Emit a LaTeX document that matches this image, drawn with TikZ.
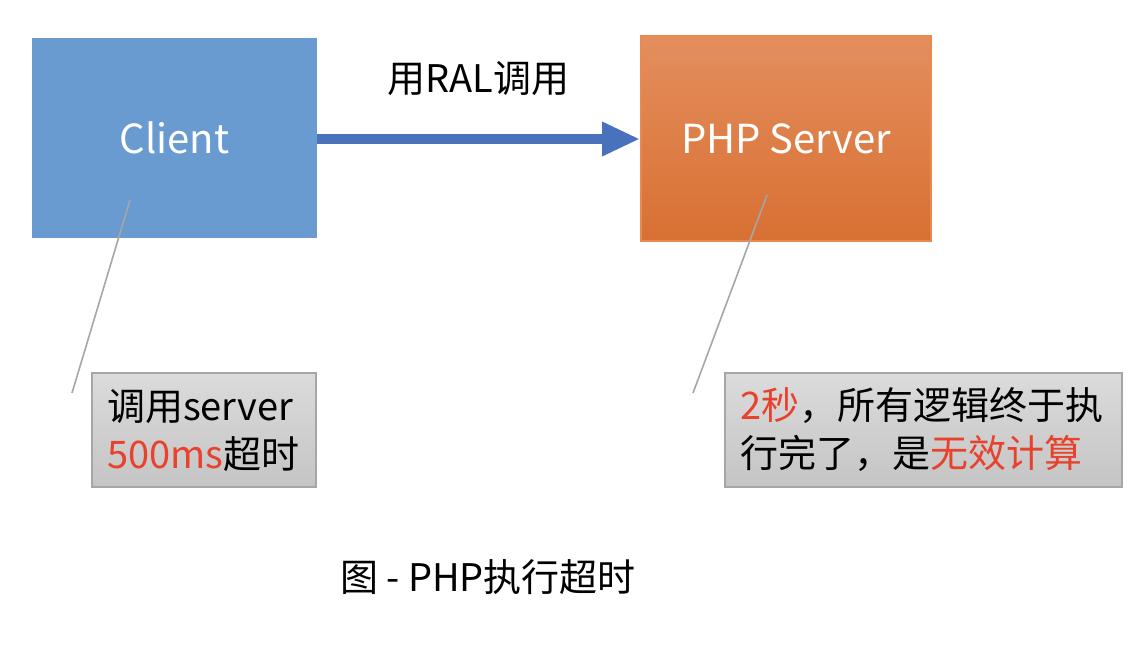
\documentclass[tikz,border=0pt]{standalone}
\usepackage{fontspec}
\setmainfont{Noto Sans CJK SC}
\usepackage{tikz}
\usetikzlibrary{arrows.meta}
\usetikzlibrary{positioning}

\definecolor{clientblue}{HTML}{699BD1}
\definecolor{arrowblue}{HTML}{4A72BC}
\definecolor{srvtop}{HTML}{E48E5E}
\definecolor{srvbot}{HTML}{D87032}
\definecolor{srvline}{HTML}{E8894F}
\definecolor{notered}{HTML}{E8412C}
\definecolor{pingray}{HTML}{A6A6A6}

\tikzset{
  bigbox/.style={minimum width=#1, minimum height=100pt, inner sep=0pt, text=white,
    font=\fontsize{20}{24}\selectfont},
  notebox/.style={draw=pingray, line width=1pt, top color=black!14, bottom color=black!23,
    text width=#1, align=left, inner xsep=7.5pt, minimum height=57pt,
    font=\fontsize{19}{24}\selectfont},
  pin/.style={draw=pingray, line width=.8pt}
}

\begin{document}
\begin{tikzpicture}[x=.5pt,y=-.5pt]
  \useasboundingbox (0,0) rectangle (1146,644);
  \node[bigbox=142.5pt, fill=clientblue] (client) at (174.5,138) {Client};
  \node[bigbox=145pt, minimum height=102.5pt, draw=srvline, line width=1pt,
    top color=srvtop, bottom color=srvbot] (server) at (786,138.5) {PHP Server};
  \draw[arrowblue, line width=5pt, -{Triangle[length=19pt,width=16pt]}]
    (client.east |- 0,139) -- (server.west |- 0,139) node(ral)[midway, above=16pt, text=black,
    font=\fontsize{19}{24}\selectfont] {用RAL调用};
  \node[notebox=97pt] (timeout) at (204,430) {调用server\\\textcolor{notered}{500ms}超时};
  \node[notebox=183.5pt] (waste) at (923.5,430)
    {\textcolor{notered}{2秒}，所有逻辑终于执\\行完了，是\textcolor{notered}{无效计算}};
  \coordinate (client pin) at (130,200);
  \coordinate (client end) at (72,393);
  \coordinate (server pin) at (767,195);
  \coordinate (server end) at (693,393);
  \draw[pin] (client pin) -- (client end);
  \draw[pin] (server pin) -- (server end);
  \node[font=\fontsize{19}{24}\selectfont] (caption) at (488,577) {图 - PHP执行超时};
\end{tikzpicture}
\end{document}
